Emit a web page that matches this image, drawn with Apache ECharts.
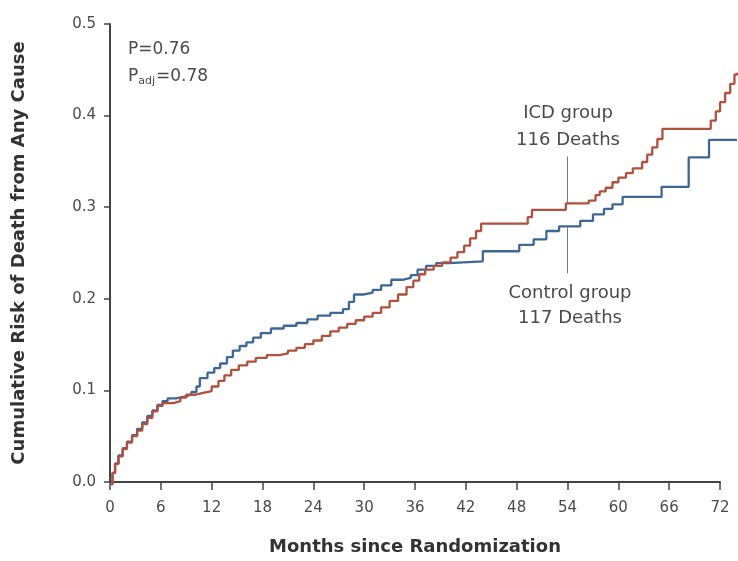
<!DOCTYPE html>
<html>
<head>
<meta charset="utf-8">
<script src="https://cdn.jsdelivr.net/npm/echarts@6/dist/echarts.min.js"></script>
<style>
html,body{margin:0;padding:0;background:#fff;}
#chart{width:738px;height:561px;}
</style>
</head>
<body>
<div id="chart"></div>
<script>
// Months since randomization tick labels
var xTicks = [0, 6, 12, 18, 24, 30, 36, 42, 48, 54, 60, 66, 72];
var yTicks = ['0.0', '0.1', '0.2', '0.3', '0.4', '0.5'];

// ICD group (red): [month, cumulative risk]
var icdMonths = [0,0.3,0.6,1,1.5,2,2.6,3.2,3.8,4.4,5,5.6,6.2,7.5,8.3,9,10,11,12,12.8,13.5,14.3,15.2,16.2,17.2,18.5,20,21,22,23,24,25,26,27,28,29,30,31,32,33,34,35,35.8,36.5,37.2,38.2,39.2,40.2,41,41.8,42.5,43.2,43.8,49.3,49.8,53.8,56.5,57.3,57.8,58.5,59.3,60,60.9,61.7,62.8,63.4,64,64.6,65.2,70.9,71.5,72,72.6,73.2,73.7,74];
var icdRisk   = [0,0.012,0.022,0.03,0.038,0.045,0.052,0.058,0.065,0.072,0.079,0.085,0.088,0.09,0.094,0.097,0.099,0.101,0.106,0.112,0.118,0.124,0.129,0.133,0.137,0.14,0.142,0.145,0.148,0.152,0.156,0.161,0.166,0.17,0.174,0.178,0.182,0.186,0.192,0.199,0.206,0.214,0.221,0.228,0.233,0.237,0.241,0.246,0.252,0.259,0.267,0.275,0.283,0.29,0.298,0.305,0.308,0.314,0.318,0.322,0.328,0.333,0.338,0.343,0.35,0.358,0.366,0.375,0.386,0.395,0.405,0.415,0.425,0.435,0.445,0.447];

// Control group (blue): [month, cumulative risk]
var ctrlMonths = [0,0.3,0.6,1,1.5,2,2.6,3.2,3.8,4.4,5,5.6,6.2,6.8,7.8,8.8,9.6,10.2,10.6,11.5,12.3,13,13.8,14.5,15.3,16.1,16.9,17.8,19,20.5,22,23.3,24.5,26,27.5,28.2,28.8,30,31,32,33.2,34.5,35.5,36.3,37.3,38.5,40,44,48.3,50,51.5,53,55.5,57,58.3,59.3,60.5,65.1,68.3,70.7,74];
var ctrlRisk   = [0,0.012,0.022,0.031,0.039,0.046,0.053,0.06,0.067,0.074,0.08,0.086,0.09,0.093,0.095,0.097,0.1,0.106,0.115,0.121,0.126,0.131,0.138,0.145,0.15,0.154,0.159,0.164,0.169,0.172,0.175,0.179,0.183,0.186,0.19,0.198,0.206,0.208,0.211,0.216,0.222,0.224,0.227,0.233,0.237,0.24,0.242,0.253,0.26,0.266,0.275,0.28,0.286,0.293,0.299,0.304,0.312,0.323,0.355,0.374,0.374];

function pairs(xs, ys){ return xs.map(function(x,i){ return [x, ys[i]]; }); }

var font = '"DejaVu Sans", "Noto Sans", sans-serif';
var txt = '#4a4a4a';
var chart = echarts.init(document.getElementById('chart'));
chart.setOption({
  animation: false,
  backgroundColor: '#ffffff',
  grid: [
    { left: 110, right: 18, top: 24, bottom: 77 },
    // same scale, extended to the right edge so the curves run past month 72
    { left: 110, right: 1, top: 24, bottom: 77 }
  ],
  xAxis: [{
    gridIndex: 0, type: 'value', min: 0, max: 72, interval: 6,
    name: 'Months since Randomization', nameLocation: 'middle', nameGap: 56,
    nameTextStyle: { fontFamily: font, fontSize: 18, fontWeight: 'bold', color: '#333' },
    axisLine: { lineStyle: { color: '#444', width: 2 } },
    axisTick: { show: true, length: 8, lineStyle: { color: '#444', width: 1.5 } },
    axisLabel: { fontFamily: font, fontSize: 15, color: txt, margin: 19,
      formatter: function(v){ return xTicks.indexOf(v) >= 0 ? String(v) : ''; } },
    splitLine: { show: false }
  }, {
    gridIndex: 1, type: 'value', min: 0, max: 74, show: false, splitLine: { show: false }
  }],
  yAxis: [{
    gridIndex: 0, type: 'value', min: 0, max: 0.5, interval: 0.1,
    name: 'Cumulative Risk of Death from Any Cause', nameLocation: 'middle', nameGap: 82,
    nameTextStyle: { fontFamily: font, fontSize: 18, fontWeight: 'bold', color: '#333' },
    axisLine: { show: true, lineStyle: { color: '#444', width: 2 } },
    axisTick: { show: true, length: 6, lineStyle: { color: '#444', width: 1.5 } },
    axisLabel: { fontFamily: font, fontSize: 15, color: txt, margin: 14,
      formatter: function(v){ return yTicks[Math.round(v*10)]; } },
    splitLine: { show: false }
  }, {
    gridIndex: 1, type: 'value', min: 0, max: 0.5, show: false, splitLine: { show: false }
  }],
  series: [
    {
      name: 'Control group', type: 'line', step: 'end', showSymbol: false, clip: false,
      xAxisIndex: 1, yAxisIndex: 1,
      data: pairs(ctrlMonths, ctrlRisk),
      lineStyle: { color: '#3f6796', width: 2.3 },
      markLine: {
        silent: true, symbol: 'none', label: { show: false },
        lineStyle: { color: '#777', width: 1, type: 'solid' },
        data: [[{ coord: [54, 0.279] }, { coord: [54, 0.229] }]]
      }
    },
    {
      name: 'ICD group', type: 'line', step: 'end', showSymbol: false, clip: false,
      xAxisIndex: 1, yAxisIndex: 1,
      data: pairs(icdMonths, icdRisk),
      lineStyle: { color: '#b0503f', width: 2.3 },
      markLine: {
        silent: true, symbol: 'none', label: { show: false },
        lineStyle: { color: '#777', width: 1, type: 'solid' },
        data: [[{ coord: [54, 0.356] }, { coord: [54, 0.306] }]]
      }
    }
  ],
  graphic: [
    { type: 'text', left: 128, top: 41, style: { text: 'P=0.76', font: '17px ' + font, fill: txt } },
    { type: 'text', left: 128, top: 68, style: { text: '{a|P}{s|adj}{a|=0.78}', fill: txt,
        rich: { a: { fontSize: 17, fontFamily: font, fill: txt }, s: { fontSize: 11, fontFamily: font, fill: txt, padding: [10, 1, 0, 0] } } } },
    { type: 'text', x: 568, y: 113, style: { text: 'ICD group', font: '18px ' + font, fill: txt, align: 'center', verticalAlign: 'middle' } },
    { type: 'text', x: 568, y: 140, style: { text: '116 Deaths', font: '18px ' + font, fill: txt, align: 'center', verticalAlign: 'middle' } },
    { type: 'text', x: 570, y: 293, style: { text: 'Control group', font: '18px ' + font, fill: txt, align: 'center', verticalAlign: 'middle' } },
    { type: 'text', x: 570, y: 318, style: { text: '117 Deaths', font: '18px ' + font, fill: txt, align: 'center', verticalAlign: 'middle' } }
  ]
});
</script>
</body>
</html>
